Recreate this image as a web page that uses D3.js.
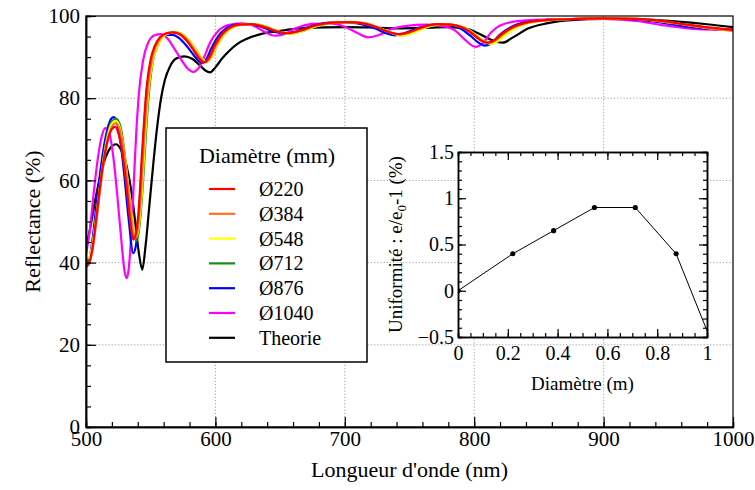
<!DOCTYPE html>
<html>
<head>
<meta charset="utf-8">
<script src="https://cdn.jsdelivr.net/npm/d3@7"></script>
<style>
body { margin: 0; background: #fff; }
svg text { font-family: "Liberation Serif", "DejaVu Serif", "Times New Roman", serif; fill: #000; }
</style>
</head>
<body>
<div id="chart"></div>
<script>
// ---- data: [wavelength nm, reflectance %] ----
var seriesNames = ["Ø220", "Ø384", "Ø548", "Ø712", "Ø876", "Ø1040", "Theorie"];
var seriesColors = ["#ff0000", "#ff7020", "#ffff00", "#138f13", "#0000ff", "#ff00ff", "#000000"];

var d220 = [[500,39.0],[502,39.6],[505,43.5],[508,51],[511,59],[514,65.5],[517,70],[520,72.5],[522.5,73],[525,71.5],[528,67],[531,59.5],[534,50.5],[536.5,45.6],[538.5,47],[541,54],[543,65],[545,75],[547,83],[550,89.5],[553,92.6],[557,94.8],[562,95.8],[567,96],[572,95.6],[577,94.3],[582,92.2],[587,89.8],[591,88.7],[595,89.8],[599,92.6],[604,95.2],[610,97],[618,97.9],[628,98],[638,97.3],[648,96.2],[656,95.8],[665,96.4],[677,97.7],[690,98.4],[702,98.5],[714,98.2],[725,97.2],[734,96.1],[742,95.6],[750,96.1],[760,97.3],[772,98],[782,97.9],[792,97],[800,95.3],[806,93.9],[810,93.5],[815,94],[822,95.8],[830,97.3],[842,98.5],[860,99.1],[880,99.3],[900,99.4],[925,99.3],[945,98.8],[965,97.9],[985,97.1],[1000,96.6]];

var d384 = [[500,39.6],[502,39.8],[505,43],[508,50],[511,58],[514,65],[517,70.2],[520,73],[523,73.9],[526,72.4],[529,67.6],[532,59.8],[535,50.8],[537.5,45.7],[539.5,47.2],[542,55],[544,65.5],[546,75.5],[548,83],[551,89.5],[554,92.6],[558,94.8],[563,95.8],[568,96],[573,95.6],[578,94.3],[583,92.2],[588,89.9],[592,88.8],[596,89.9],[600,92.6],[605,95.2],[611,97],[619,97.9],[629,98],[639,97.3],[649,96.2],[657,95.8],[666,96.4],[678,97.7],[691,98.4],[703,98.5],[715,98.2],[726,97.2],[735,96],[743,95.5],[751,96.1],[761,97.3],[773,98],[783,97.9],[793,97],[801,95.3],[807,93.9],[811,93.5],[816,94],[823,95.8],[831,97.3],[843,98.5],[860,99.1],[880,99.3],[900,99.4],[925,99.3],[945,98.7],[965,97.8],[985,96.9],[1000,96.4]];

var d548 = [[500,41],[502,41.2],[505,44.5],[508,51.5],[511,59],[514,66],[517,71],[520,73.8],[523,74.5],[526,73],[529,68],[532,60.5],[535,52],[538.5,46.2],[540.5,48],[543,56.5],[545,67],[547,77],[549,84],[552,89.8],[555,92.6],[559,94.8],[564,95.8],[569,96],[574,95.6],[579,94.3],[584,92.2],[589,89.9],[593,88.9],[597,90],[601,92.6],[606,95.2],[612,97],[620,97.9],[630,98],[640,97.3],[650,96.1],[658,95.6],[667,96.3],[679,97.6],[692,98.4],[704,98.5],[716,98.2],[727,97.1],[737,95.8],[745,95.2],[753,95.9],[763,97.2],[775,98],[785,97.8],[795,96.8],[803,95],[809,93.6],[813,93.2],[818,93.8],[825,95.6],[833,97.2],[845,98.5],[862,99.1],[880,99.3],[900,99.4],[925,99.3],[945,98.7],[965,97.8],[985,96.9],[1000,96.4]];

var d712 = [[500,40.5],[502,40.6],[505,44],[508,51],[511,59],[514,66.5],[517,71.8],[520,74.4],[523.5,75],[527,72.6],[530,66.2],[533,57.5],[536,49.5],[539,45.2],[541,48],[543.5,57],[545.5,67],[547.5,77],[549.5,84],[552,89.5],[555,92.5],[559,94.8],[564,95.8],[569,96],[574,95.6],[579,94.3],[584,92.2],[589,89.9],[593,88.8],[597,89.9],[601,92.6],[606,95.2],[612,97],[620,97.9],[630,98],[640,97.3],[650,96.1],[658,95.7],[667,96.3],[679,97.6],[692,98.4],[704,98.5],[716,98.2],[727,97.1],[736,95.9],[744,95.3],[752,96],[762,97.2],[774,98],[784,97.8],[794,96.8],[802,95],[808,93.6],[812,93.3],[817,93.9],[824,95.7],[832,97.2],[844,98.5],[862,99.1],[880,99.3],[900,99.4],[925,99.3],[945,98.7],[965,97.8],[985,97],[1000,96.5]];

var d876 = [[500,39.3],[502,40],[505,45.5],[508,54],[511,62],[514,68.5],[517,73],[519.5,75],[521.5,75.4],[524,74],[527,68.5],[530,60],[533,50.5],[536.5,42.3],[538.5,44],[541,52.5],[543,63],[545,73.5],[547,82],[550,88.5],[553,92.2],[557,94.5],[562,95.4],[567,95.4],[572,94.6],[577,93],[582,91],[586,89.4],[589.5,88.6],[593,89.5],[597,92.2],[602,95],[608,96.9],[616,97.9],[626,98],[636,97.3],[646,96.1],[654,95.7],[663,96.3],[675,97.6],[688,98.4],[700,98.5],[712,98.1],[723,97],[732,95.8],[739,95.3],[747,95.9],[757,97.1],[769,97.9],[779,97.9],[789,97],[797,95.2],[803,93.6],[808,92.8],[813,93.3],[820,95.5],[828,97.2],[840,98.5],[858,99.1],[880,99.3],[900,99.4],[925,99.2],[945,98.4],[965,97.4],[985,96.8],[1000,96.6]];

var d1040 = [[500,42],[503,48],[506,57],[509,65],[512,70.5],[515,72.7],[518,71.5],[521,66],[524,57],[527,46.5],[530,37.5],[531.5,36.2],[533,38.5],[535,47],[537,60],[539,72.5],[541,81.5],[544,89],[548,93.5],[553,95.3],[558,95.6],[563,94.5],[568,92.2],[573,89.7],[578,87.4],[583,86.4],[587,87.3],[591,89.8],[596,93.6],[602,96.3],[610,97.8],[620,98.2],[629,97.7],[637,96.3],[646,95.2],[653,95.6],[662,97],[675,98.1],[688,98.2],[700,97.4],[710,95.8],[718,94.8],[726,95.3],[735,96.7],[748,97.6],[762,97.9],[775,97.6],[785,96.5],[793,94.2],[801,92.5],[807,93.5],[813,96],[820,97.7],[835,98.8],[860,99.2],[900,99.3],[925,98.8],[945,97.8],[965,97],[985,96.7],[1000,96.8]];

var dTheorie = [[500,43.5],[503,48],[507,55],[511,61],[515,65.5],[519,68],[523,68.8],[527,67.5],[531,64],[535,57.5],[538,50],[541,42],[543.5,38.3],[546,44],[549,54],[552,64],[555,73],[558,80],[561,84.5],[565,87.8],[570,89.7],[576,90.2],[582,89.6],[587,88.3],[592,86.8],[596,86.3],[600,87.5],[605,89.6],[610,91.3],[617,93.2],[624,94.4],[635,95.6],[650,96.4],[670,97.1],[700,97.3],[720,97.2],[740,97],[760,97.1],[780,97.3],[795,96.8],[805,95.5],[813,94.2],[822,93.5],[830,94.8],[842,97],[856,98.2],[875,99],[900,99.3],[930,99.2],[955,98.7],[980,98],[1000,97.3]];

var seriesData = [d220, d384, d548, d712, d876, d1040, dTheorie];

var xTicks = [500, 600, 700, 800, 900, 1000];
var yTicks = [0, 20, 40, 60, 80, 100];

// inset: uniformity vs diameter
var insetDiam = [0, 0.22, 0.384, 0.548, 0.712, 0.876, 1.04];
var insetUnif = [0, 0.4, 0.65, 0.9, 0.9, 0.4, -0.7];
var insetXTicks = [0, 0.2, 0.4, 0.6, 0.8, 1];
var insetYTicks = [-0.5, 0, 0.5, 1, 1.5];

// ---- layout ----
var width = 755, height = 490;
var serif = "'Liberation Serif', 'DejaVu Serif', 'Times New Roman', serif";
var plot = {left: 86, right: 733, top: 16, bottom: 427};

var svg = d3.select("#chart").append("svg")
    .attr("width", width)
    .attr("height", height)
    .attr("font-family", serif)
    .style("display", "block");

svg.append("rect").attr("width", width).attr("height", height).attr("fill", "#fff");

var x = d3.scaleLinear().domain([500, 1000]).range([plot.left, plot.right]);
var y = d3.scaleLinear().domain([0, 100]).range([plot.bottom, plot.top]);

// dotted grid
var grid = svg.append("g").attr("stroke", "#a0a0a0").attr("stroke-dasharray", "1.2,2").attr("stroke-width", 1);
grid.selectAll(".gx").data(xTicks.slice(1, -1)).enter().append("line")
    .attr("x1", d => x(d)).attr("x2", d => x(d))
    .attr("y1", plot.top).attr("y2", plot.bottom);
grid.selectAll(".gy").data(yTicks.slice(1, -1)).enter().append("line")
    .attr("x1", plot.left).attr("x2", plot.right)
    .attr("y1", d => y(d)).attr("y2", d => y(d));

// curves
svg.append("clipPath").attr("id", "clipMain").append("rect")
    .attr("x", plot.left).attr("y", plot.top)
    .attr("width", plot.right - plot.left).attr("height", plot.bottom - plot.top);

var line = d3.line()
    .x(d => x(d[0]))
    .y(d => y(d[1]))
    .curve(d3.curveMonotoneX);

var drawOrder = [6, 5, 4, 3, 2, 1, 0]; // theorie first, red last (on top)
svg.append("g").attr("clip-path", "url(#clipMain)")
    .selectAll("path").data(drawOrder).enter().append("path")
    .attr("d", i => line(seriesData[i]))
    .attr("fill", "none")
    .attr("stroke", i => seriesColors[i])
    .attr("stroke-width", 2.2)
    .attr("stroke-linejoin", "round");

// frame
svg.append("rect")
    .attr("x", plot.left).attr("y", plot.top)
    .attr("width", plot.right - plot.left).attr("height", plot.bottom - plot.top)
    .attr("fill", "none").attr("stroke", "#000").attr("stroke-width", 1.2);

// axes (ticks point inwards)
function styleAxis(g, size) {
    g.attr("font-family", serif).attr("font-size", size);
    g.selectAll("text").attr("fill", "#000");
    g.selectAll("line").attr("stroke", "#000").attr("stroke-width", 1.2);
    g.select(".domain").attr("stroke", "#000").attr("stroke-width", 1.5);
}

var fmt = d3.format("");

svg.append("g").attr("transform", "translate(0," + plot.bottom + ")")
    .call(d3.axisBottom(x).tickValues(d3.range(500, 1001, 20)).tickSize(-5).tickFormat(""))
    .call(g => styleAxis(g, 20));
svg.append("g").attr("transform", "translate(0," + plot.bottom + ")")
    .call(d3.axisBottom(x).tickValues(xTicks).tickSizeInner(-10).tickSizeOuter(0).tickPadding(4).tickFormat(fmt))
    .call(g => styleAxis(g, 21));

svg.append("g").attr("transform", "translate(" + plot.left + ",0)")
    .call(d3.axisLeft(y).tickValues(d3.range(0, 101, 5)).tickSize(-5).tickFormat(""))
    .call(g => styleAxis(g, 20));
svg.append("g").attr("transform", "translate(" + plot.left + ",0)")
    .call(d3.axisLeft(y).tickValues(yTicks).tickSizeInner(-10).tickSizeOuter(0).tickPadding(6).tickFormat(fmt))
    .call(g => styleAxis(g, 21));

// axis titles
svg.append("text")
    .attr("x", (plot.left + plot.right) / 2).attr("y", 477)
    .attr("text-anchor", "middle").attr("font-size", 22)
    .text("Longueur d'onde (nm)");
svg.append("text")
    .attr("transform", "translate(40," + ((plot.top + plot.bottom) / 2) + ") rotate(-90)")
    .attr("text-anchor", "middle").attr("font-size", 22)
    .text("Reflectance (%)");

// legend
var legend = svg.append("g");
legend.append("rect")
    .attr("x", 166).attr("y", 128).attr("width", 201).attr("height", 234)
    .attr("fill", "#fff").attr("stroke", "#000").attr("stroke-width", 1.5);
legend.append("text")
    .attr("x", 267).attr("y", 163)
    .attr("text-anchor", "middle").attr("font-size", 22)
    .text("Diamètre (mm)");
var entry = legend.selectAll(".entry").data(seriesNames).enter().append("g")
    .attr("transform", (d, i) => "translate(0," + (189 + i * 24.8) + ")");
entry.append("line")
    .attr("x1", 209).attr("x2", 235)
    .attr("stroke", (d, i) => seriesColors[i]).attr("stroke-width", 2.2);
entry.append("text")
    .attr("x", 259).attr("y", 7).attr("font-size", 20)
    .text(d => d);

// inset
var ins = {left: 458, right: 707, top: 152, bottom: 337};
var xi = d3.scaleLinear().domain([0, 1]).range([ins.left, ins.right]);
var yi = d3.scaleLinear().domain([-0.5, 1.5]).range([ins.bottom, ins.top]);

svg.append("rect")
    .attr("x", ins.left).attr("y", ins.top)
    .attr("width", ins.right - ins.left).attr("height", ins.bottom - ins.top)
    .attr("fill", "#fff");

svg.append("clipPath").attr("id", "clipInset").append("rect")
    .attr("x", ins.left).attr("y", ins.top)
    .attr("width", ins.right - ins.left).attr("height", ins.bottom - ins.top);

var insetPts = insetDiam.map((d, i) => [d, insetUnif[i]]);
var insetG = svg.append("g").attr("clip-path", "url(#clipInset)");
insetG.append("path")
    .attr("d", d3.line().x(d => xi(d[0])).y(d => yi(d[1]))(insetPts))
    .attr("fill", "none").attr("stroke", "#000").attr("stroke-width", 1);
insetG.selectAll("circle").data(insetPts).enter().append("circle")
    .attr("cx", d => xi(d[0])).attr("cy", d => yi(d[1])).attr("r", 2.6)
    .attr("fill", "#000");

// minor ticks on all sides
svg.append("g").attr("transform", "translate(0," + ins.bottom + ")")
    .call(d3.axisBottom(xi).tickValues(d3.range(0, 1.001, 0.05)).tickSize(-4).tickFormat(""))
    .call(g => styleAxis(g, 19));
svg.append("g").attr("transform", "translate(0," + ins.top + ")")
    .call(d3.axisTop(xi).tickValues(d3.range(0, 1.001, 0.05)).tickSize(-4).tickFormat(""))
    .call(g => styleAxis(g, 19));
svg.append("g").attr("transform", "translate(" + ins.left + ",0)")
    .call(d3.axisLeft(yi).tickValues(d3.range(-0.5, 1.501, 0.1)).tickSize(-4).tickFormat(""))
    .call(g => styleAxis(g, 19));
svg.append("g").attr("transform", "translate(" + ins.right + ",0)")
    .call(d3.axisRight(yi).tickValues(d3.range(-0.5, 1.501, 0.1)).tickSize(-4).tickFormat(""))
    .call(g => styleAxis(g, 19));
// major ticks
svg.append("g").attr("transform", "translate(0," + ins.bottom + ")")
    .call(d3.axisBottom(xi).tickValues(insetXTicks).tickSizeInner(-8).tickSizeOuter(0).tickPadding(9).tickFormat(fmt))
    .call(g => styleAxis(g, 20));
svg.append("g").attr("transform", "translate(0," + ins.top + ")")
    .call(d3.axisTop(xi).tickValues(insetXTicks).tickSizeInner(-8).tickSizeOuter(0).tickFormat(""))
    .call(g => styleAxis(g, 20));
svg.append("g").attr("transform", "translate(" + ins.left + ",0)")
    .call(d3.axisLeft(yi).tickValues(insetYTicks).tickSizeInner(-8).tickSizeOuter(0).tickPadding(4).tickFormat(fmt))
    .call(g => styleAxis(g, 20));
svg.append("g").attr("transform", "translate(" + ins.right + ",0)")
    .call(d3.axisRight(yi).tickValues(insetYTicks).tickSizeInner(-8).tickSizeOuter(0).tickFormat(""))
    .call(g => styleAxis(g, 20));

svg.append("text")
    .attr("x", (ins.left + ins.right) / 2).attr("y", 390)
    .attr("text-anchor", "middle").attr("font-size", 19)
    .text("Diamètre (m)");

var yl = svg.append("text")
    .attr("transform", "translate(402," + ((ins.top + ins.bottom) / 2) + ") rotate(-90)")
    .attr("text-anchor", "middle").attr("font-size", 19);
yl.append("tspan").text("Uniformité : e/e");
yl.append("tspan").attr("font-size", 13).attr("dy", 4).text("0");
yl.append("tspan").attr("dy", -4).text("-1 (%)");
</script>
</body>
</html>
